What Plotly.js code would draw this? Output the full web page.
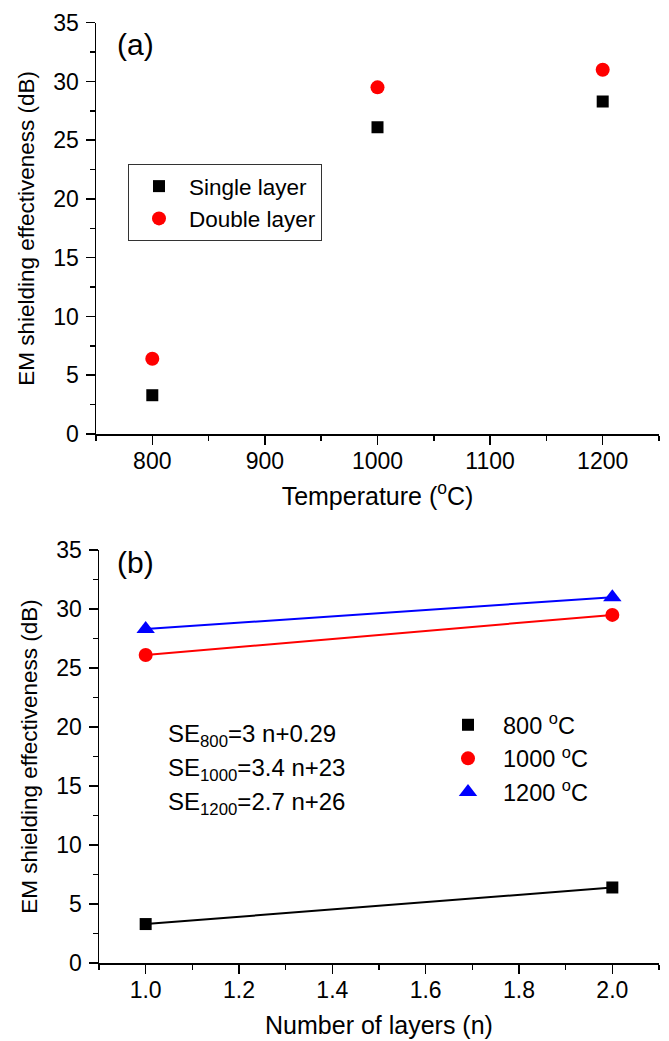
<!DOCTYPE html>
<html>
<head>
<meta charset="utf-8">
<script src="https://cdn.plot.ly/plotly-3.0.1.min.js"></script>
<style>html,body{margin:0;padding:0;background:#fff}</style>
</head>
<body>
<div id="chart" style="width:669px;height:1041px"></div>
<script>
// Shielding effectiveness (dB) vs. sintering temperature
const temperatures = [800, 1000, 1200];
const singleLayerSE = [3.3, 26.1, 28.3];
const doubleLayerSE = [6.4, 29.5, 31.0];

// Same measurements grouped by temperature vs. number of layers
const layerCounts = [1, 2];
const temperatureNames = ['800 <sup>o</sup>C', '1000 <sup>o</sup>C', '1200 <sup>o</sup>C'];
const fitEquations = [
  'SE<sub>800</sub>=3 n+0.29',
  'SE<sub>1000</sub>=3.4 n+23',
  'SE<sub>1200</sub>=2.7 n+26'
];

const W = 669, H = 1041;
const px = v => v / W;
const py = v => 1 - v / H;

const FONT = 'Liberation Sans, Arial, sans-serif';
const seriesColors = ['#000000', '#ff0000', '#0000ff'];
const seriesSymbols = ['square', 'circle', 'triangle-up'];
const seriesSizes = [12, 14, 16];

const traces = [
  {
    x: temperatures, y: singleLayerSE, name: 'Single layer',
    type: 'scatter', mode: 'markers', xaxis: 'x', yaxis: 'y', legend: 'legend',
    marker: { symbol: 'square', size: 12, color: '#000000' }
  },
  {
    x: temperatures, y: doubleLayerSE, name: 'Double layer',
    type: 'scatter', mode: 'markers', xaxis: 'x', yaxis: 'y', legend: 'legend',
    marker: { symbol: 'circle', size: 14, color: '#ff0000' }
  }
];

// linear fit lines (two points each) and the measured points
temperatures.forEach((t, i) => {
  const ys = [singleLayerSE[i], doubleLayerSE[i]];
  traces.push({
    x: layerCounts, y: ys, type: 'scatter', mode: 'lines',
    xaxis: 'x2', yaxis: 'y2', showlegend: false, hoverinfo: 'skip',
    line: { color: seriesColors[i], width: 2 }
  });
});
temperatures.forEach((t, i) => {
  const ys = [singleLayerSE[i], doubleLayerSE[i]];
  traces.push({
    x: layerCounts, y: ys, name: temperatureNames[i],
    type: 'scatter', mode: 'markers', xaxis: 'x2', yaxis: 'y2',
    legend: 'legend2',
    marker: { symbol: seriesSymbols[i], size: seriesSizes[i], color: seriesColors[i] }
  });
});

const axisStyle = {
  showline: true, linecolor: '#000', linewidth: 1.5,
  ticks: 'outside', ticklen: 9, tickwidth: 1.5, tickcolor: '#000',
  showgrid: false, zeroline: false, automargin: false,
  tickfont: { family: FONT, size: 23, color: '#000' },
  minor: { ticks: 'outside', ticklen: 5, tickwidth: 1.5, tickcolor: '#000', showgrid: false }
};
const xTitleFont = { family: FONT, size: 25, color: '#000' };
const yTitleFont = { family: FONT, size: 22.5, color: '#000' };

const layout = {
  width: W, height: H,
  margin: { l: 0, r: 0, t: 0, b: 0 },
  paper_bgcolor: '#fff', plot_bgcolor: '#fff',
  font: { family: FONT, size: 22, color: '#000' },
  showlegend: true,
  xaxis: Object.assign({}, axisStyle, {
    domain: [px(96), px(659)], anchor: 'y',
    range: [750, 1250], tick0: 0, dtick: 100, ticklabelstandoff: -3,
    minor: Object.assign({}, axisStyle.minor, { dtick: 50 }),
    title: { text: 'Temperature (<sup>o</sup>C)', font: xTitleFont, standoff: 14 }
  }),
  yaxis: Object.assign({}, axisStyle, {
    domain: [py(434), py(22.7)], anchor: 'x',
    range: [0, 35], tick0: 0, dtick: 5, ticklabelstandoff: 2,
    minor: Object.assign({}, axisStyle.minor, { dtick: 2.5 }),
    title: { text: 'EM shielding effectiveness (dB)', font: yTitleFont, standoff: 12 }
  }),
  xaxis2: Object.assign({}, axisStyle, {
    domain: [px(99), px(659)], anchor: 'y2',
    range: [0.9, 2.1], tick0: 0, dtick: 0.2, tickformat: '.1f', ticklabelstandoff: -3,
    minor: Object.assign({}, axisStyle.minor, { dtick: 0.1 }),
    title: { text: 'Number of layers (n)', font: xTitleFont, standoff: 14 }
  }),
  yaxis2: Object.assign({}, axisStyle, {
    domain: [py(963), py(550)], anchor: 'x2',
    range: [0, 35], tick0: 0, dtick: 5, ticklabelstandoff: 2,
    minor: Object.assign({}, axisStyle.minor, { dtick: 2.5 }),
    title: { text: 'EM shielding effectiveness (dB)', font: yTitleFont, standoff: 12 }
  }),
  legend: {
    x: px(128), y: py(164), xanchor: 'left', yanchor: 'top',
    bgcolor: '#fff', bordercolor: '#333', borderwidth: 1,
    itemwidth: 50, font: { family: FONT, size: 22.5, color: '#000' }
  },
  legend2: {
    x: px(433), y: py(703), xanchor: 'left', yanchor: 'top',
    bgcolor: 'rgba(0,0,0,0)', borderwidth: 0,
    itemwidth: 60, font: { family: FONT, size: 23.5, color: '#000' }
  },
  annotations: [
    { text: '(a)', xref: 'paper', yref: 'paper', x: px(115), y: py(45), xanchor: 'left', yanchor: 'middle', showarrow: false, font: { family: FONT, size: 30, color: '#000' } },
    { text: '(b)', xref: 'paper', yref: 'paper', x: px(115), y: py(562), xanchor: 'left', yanchor: 'middle', showarrow: false, font: { family: FONT, size: 30, color: '#000' } }
  ].concat(fitEquations.map((eq, i) => ({
    text: eq, xref: 'paper', yref: 'paper', x: px(166), y: py(718 + i * 34),
    xanchor: 'left', yanchor: 'top', align: 'left', showarrow: false,
    font: { family: FONT, size: 24, color: '#000' }
  })))
};

Plotly.newPlot('chart', traces, layout, { displayModeBar: false, staticPlot: true });
</script>
</body>
</html>
